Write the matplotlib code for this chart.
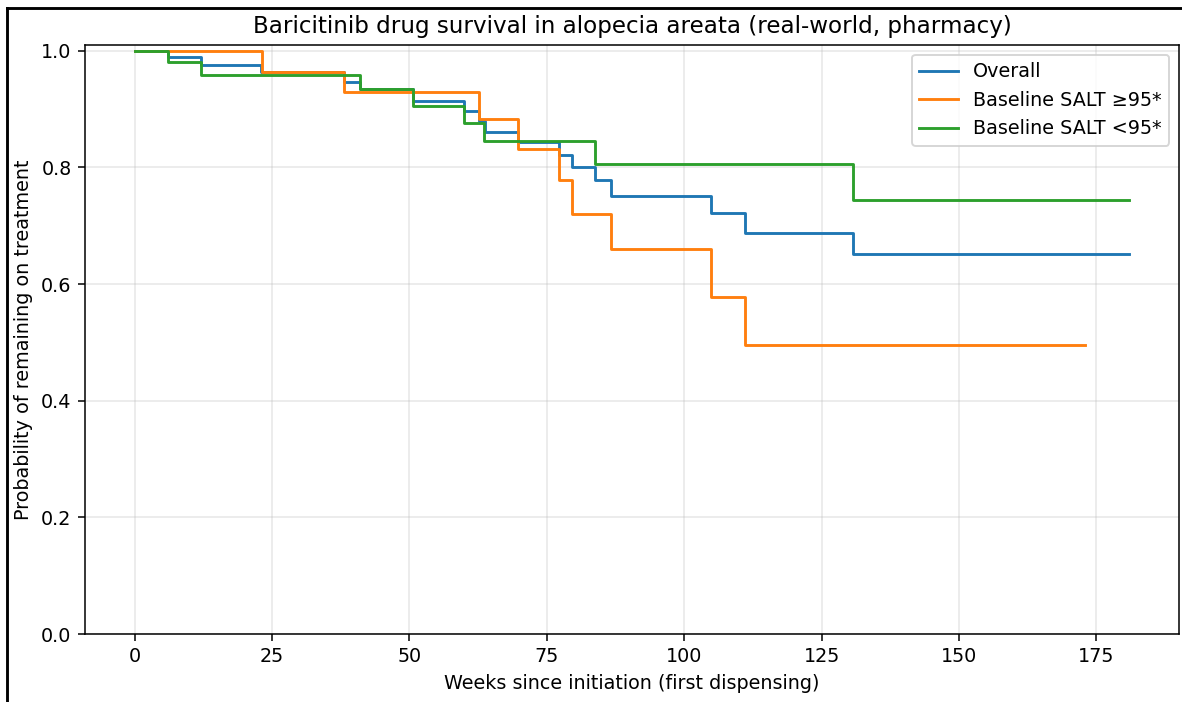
import matplotlib
matplotlib.use("Agg")
import matplotlib.pyplot as plt
from matplotlib.lines import Line2D

# Kaplan-Meier style step values (weeks, survival)
overall_weeks = [0, 6, 12, 23, 38, 41, 50.6, 60, 62.7, 63.7, 69.7, 77.3, 79.6, 83.8, 86.7, 104.9, 111.1, 130.8, 181]
overall_surv = [1.0, 0.989, 0.976, 0.963, 0.947, 0.934, 0.914, 0.897, 0.880, 0.861, 0.843, 0.821, 0.800, 0.778, 0.751, 0.722, 0.687, 0.651, 0.651]

high_weeks = [0, 23.2, 38, 62.7, 69.7, 77.3, 79.6, 86.7, 104.9, 111.1, 173]
high_surv = [1.0, 0.964, 0.929, 0.883, 0.831, 0.778, 0.720, 0.661, 0.578, 0.496, 0.496]

low_weeks = [0, 6, 12, 41, 50.6, 60, 63.5, 83.8, 130.8, 181]
low_surv = [1.0, 0.980, 0.959, 0.934, 0.905, 0.876, 0.846, 0.806, 0.744, 0.744]

labels = ["Overall", "Baseline SALT \u226595*", "Baseline SALT <95*"]

fig = plt.figure(figsize=(1182 / 138, 702 / 138), dpi=138)
ax = fig.add_axes([85 / 1182, 1 - 634 / 702, (1179 - 85) / 1182, (634 - 45) / 702])

ax.step(overall_weeks, overall_surv, where="post", label=labels[0])
ax.step(high_weeks, high_surv, where="post", label=labels[1])
ax.step(low_weeks, low_surv, where="post", label=labels[2])

ax.set_xlim(-9.05, 190.05)
ax.set_ylim(0, 1.01)
ax.set_xticks([0, 25, 50, 75, 100, 125, 150, 175])
ax.grid(alpha=0.3)
ax.set_xlabel("Weeks since initiation (first dispensing)")
ax.set_ylabel("Probability of remaining on treatment")
ax.set_title("Baricitinib drug survival in alopecia areata (real-world, pharmacy)")
ax.legend(loc="upper right")

# outer frame seen along the left and top edges
fig.add_artist(Line2D([7 / 1182, 7 / 1182], [0, 1 - 8 / 702], color="black", lw=1.5))
fig.add_artist(Line2D([7 / 1182, 1], [1 - 8 / 702, 1 - 8 / 702], color="black", lw=1.5))

fig.savefig("out.png", dpi=138)
